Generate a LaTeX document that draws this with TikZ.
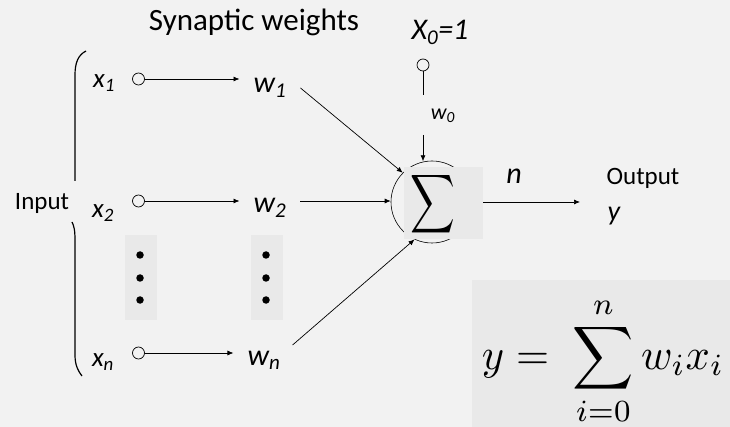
\documentclass[tikz,border=0pt]{standalone}
\usepackage{graphicx}
\usepackage{amsmath}
\usepackage{fontspec}
\setmainfont{Carlito}
\usetikzlibrary{arrows.meta,calc}
\definecolor{bg}{HTML}{F2F2F2}
\definecolor{boxg}{HTML}{E9E9E9}
\begin{document}
\begin{tikzpicture}[x=1pt,y=-1pt,
 arr/.style={-{Latex[length=6pt,width=5pt]}, line width=0.7pt},
 ln/.style={line width=0.7pt},
 inp/.style={circle, draw, line width=0.7pt, minimum size=12pt, inner sep=0pt},
 lbl/.style={font=\fontsize{25}{30}\selectfont, inner sep=0pt},
 xl/.style={font=\fontsize{27}{30}\selectfont\itshape, inner sep=0pt},
 wl/.style={font=\fontsize{30}{30}\selectfont\itshape, inner sep=0pt, inner xsep=14pt},
 dotbox/.style={fill=boxg, minimum width=32pt, minimum height=84pt, inner sep=0pt},
 dotc/.style={circle, fill=black, minimum size=7.5pt, inner sep=0pt}
]
\fill[bg] (0,0) rectangle (730,427);
\useasboundingbox (0,0) rectangle (730,427);

% texts
\node[lbl, font=\fontsize{31}{34}\selectfont] (title) at (254,22) {Synaptic weights};
\node[lbl] (input) at (42,203) {Input};
\node[lbl] (outl) at (643,178) {Output};
\node[lbl, font=\fontsize{28}{30}\selectfont\itshape] (yout) at (614,216) {y};
\node[xl, font=\fontsize{30}{30}\selectfont\itshape] (nl) at (514,176) {n};
\node[xl, font=\fontsize{30}{30}\selectfont\itshape] (x0) at (440,32) {X\textsubscript{0}=1};
\node[xl, font=\fontsize{22}{30}\selectfont\itshape] (w0) at (443,116) {w\textsubscript{0}};

% inputs
\node[xl] (x1) at (104,83) {x\textsubscript{1}};
\node[xl] (x2) at (103,213) {x\textsubscript{2}};
\node[xl] (xn) at (103,362) {x\textsubscript{n}};
\node[inp] (c1) at (138.5,79) {};
\node[inp] (c2) at (138.5,201) {};
\node[inp] (cn) at (138.5,353) {};
\node[inp] (c0) at (423,65) {};

% weights
\node[wl] (w1) at (270,88) {w\textsubscript{1}};
\node[wl] (w2) at (270,208) {w\textsubscript{2}};
\node[wl] (wn) at (264,360) {w\textsubscript{n}};

% dots
\node[dotbox] (db1) at (141,277.5) {};
\node[dotbox] (db2) at (267,277.5) {};
\foreach \yy in {255,278,300} {
  \node[dotc] at (140,\yy) {};
  \node[dotc] at (266,\yy) {};
}

% summation unit
\node[circle, draw, line width=0.6pt, minimum size=82pt, inner sep=0pt] (sum) at (432,202) {};
\node[fill=boxg, minimum width=79pt, minimum height=72pt, inner sep=0pt] (sbox) at (443.5,203) {};
\node[inner sep=0pt] (sig) at (433,204) {\scalebox{3.1}[4.1]{$\displaystyle\sum$}};

% connectors
\draw[arr] (c1.east) -- (c1 -| w1.west);
\draw[arr] (c2.east) -- (c2 -| w2.west);
\draw[arr] (cn.east) -- (cn -| wn.west);
\draw[arr] (w1.east) -- (sum.135);
\draw[arr] (w2.east |- c2) -- (sum.west |- c2);
\draw[arr] ($(wn.east)+(-2,-15)$) -- (sum.245);
\draw[ln] (c0.south) -- ($(c0)+(0,30)$);
\draw[arr] ($(c0)+(0,70)$) -- (c0 |- sum.100);
\coordinate (oend) at (580,202);
\draw[arr] (sbox.east |- oend) -- (oend);

% bracket
\draw[line width=1.2pt] (86,51) .. controls (78,55) and (75,63) .. (75,75) -- (75,181);
\draw[line width=1.2pt] (72,222) .. controls (74,226) and (75,230) .. (75,240) -- (75,355) .. controls (75,365) and (78,371) .. (82,376);

% formula
\node[fill=boxg, minimum width=258pt, minimum height=147pt, inner sep=0pt, anchor=north west] (fbox) at (472,280) {};
\node[inner sep=0pt] (form) at (603,361) {\scalebox{4.25}[4.4]{$\displaystyle y =\; \sum_{i=0}^{n} w_i x_i$}};
\end{tikzpicture}
\end{document}
